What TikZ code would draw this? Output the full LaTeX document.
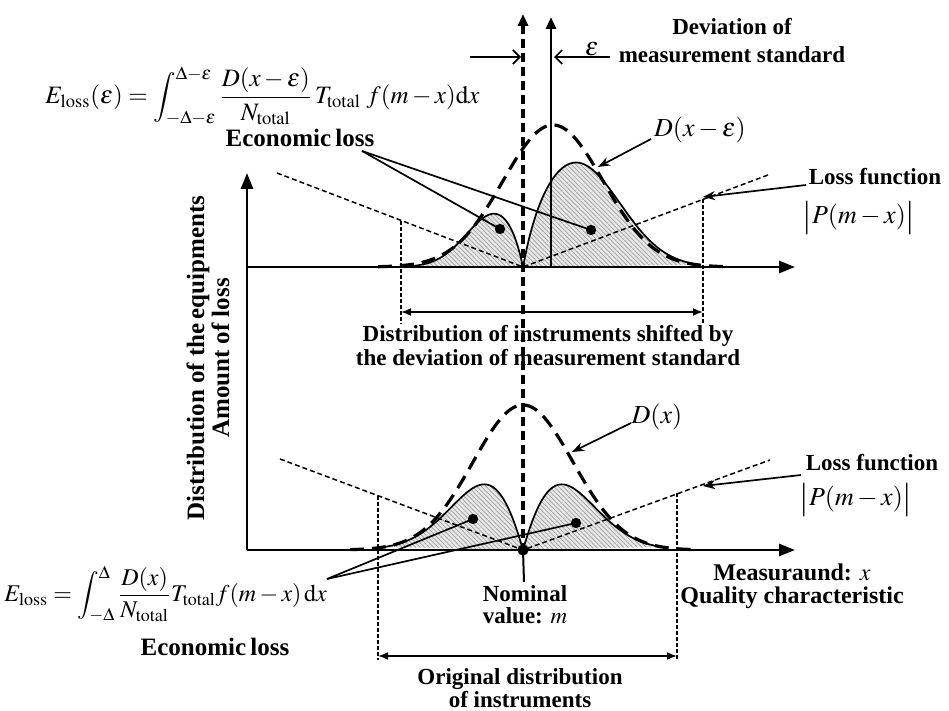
\documentclass[tikz,border=0pt]{standalone}
\usepackage{mathptmx}
\usepackage{fontspec}
\setmainfont{Liberation Serif}
\usetikzlibrary{arrows.meta,patterns.meta}
\newcommand{\tallbar}{\raisebox{-1.2pt}{\fontsize{17}{17}\selectfont$|$}}
\begin{document}
\begin{tikzpicture}[x=0.5pt,y=-0.5pt,
  axis/.style={line width=1.3pt,-{Triangle[length=8pt,width=6pt]}},
  bell/.style={line width=1.6pt,dash pattern=on 7pt off 4pt},
  mline/.style={line width=1.6pt,dash pattern=on 4.5pt off 2.5pt},
  lossv/.style={line width=0.75pt,dash pattern=on 2.5pt off 1.5pt},
  dotv/.style={line width=0.75pt,dash pattern=on 2pt off 1pt},
  lobefill/.style={preaction={fill=gray!18},pattern={Lines[angle=-45,distance=1.6pt,line width=0.35pt]},pattern color=gray!75},
  lobeline/.style={line width=0.85pt},
  ptr/.style={line width=0.85pt},
  ptrarrow/.style={line width=0.85pt,-{Stealth[length=6pt,width=4.5pt]}},
  epsarrow/.style={line width=0.85pt,-{Straight Barb[length=3.5pt,width=7pt]}},
  spanarrow/.style={line width=0.85pt,{Latex[length=5pt,width=4pt]}-{Latex[length=5pt,width=4pt]}},
  lbl/.style={font=\bfseries\fontsize{11.5}{12.5}\selectfont,align=center,inner sep=0.5pt},
  mth/.style={font=\fontsize{13}{15}\selectfont,inner sep=0pt},
  blob/.style={circle,fill=black,inner sep=0pt,minimum size=5.2pt}]
\useasboundingbox (0,0) rectangle (949,711);

% ---------- upper diagram: shaded loss lobes ----------
\path[lobefill] plot[domain=410:523,samples=80] (\x,{267-55*exp(-0.5*((\x-497)/30)^2)*(1-exp(-abs(\x-523)/8))}) -- cycle;
\path[lobefill] plot[domain=523:700,samples=100] (\x,{267-105*exp(-0.5*((\x-575)/45)^2)*(1-exp(-abs(\x-523)/10))}) -- cycle;
\draw[lobeline] plot[domain=410:523,samples=80] (\x,{267-55*exp(-0.5*((\x-497)/30)^2)*(1-exp(-abs(\x-523)/8))});
\draw[lobeline] plot[domain=523:700,samples=100] (\x,{267-105*exp(-0.5*((\x-575)/45)^2)*(1-exp(-abs(\x-523)/10))});
\draw[bell] plot[domain=378:728,samples=140] (\x,{267-142*exp(-0.5*((\x-553)/50)^2)});

\coordinate (lvU1) at (277,173);
\coordinate (mU) at (523,267);
\coordinate (lvU2) at (768,175);
\draw[lossv] (lvU1) -- (mU) -- (lvU2);

\coordinate (dlU) at (401,221);
\coordinate (dlUb) at (401,327);
\coordinate (drU) at (703,199);
\coordinate (drUb) at (703,328);
\draw[dotv] (dlU) -- (dlUb);
\draw[dotv,line width=1.2pt] (drU) -- (drUb);
\coordinate (spUl) at (401,312);
\coordinate (spUr) at (703,312);
\draw[spanarrow] (spUl) -- (spUr);

% ---------- lower diagram ----------
\path[lobefill] plot[domain=385:523,samples=80] (\x,{550-145*exp(-0.5*((\x-523)/50)^2)*(1-exp(-abs(\x-523)/41))}) -- cycle;
\path[lobefill] plot[domain=523:661,samples=80] (\x,{550-145*exp(-0.5*((\x-523)/50)^2)*(1-exp(-abs(\x-523)/41))}) -- cycle;
\draw[lobeline] plot[domain=385:523,samples=80] (\x,{550-145*exp(-0.5*((\x-523)/50)^2)*(1-exp(-abs(\x-523)/41))});
\draw[lobeline] plot[domain=523:661,samples=80] (\x,{550-145*exp(-0.5*((\x-523)/50)^2)*(1-exp(-abs(\x-523)/41))});
\draw[bell] plot[domain=350:696,samples=140] (\x,{550-145*exp(-0.5*((\x-523)/50)^2)});

\coordinate (lvL1) at (280,459);
\coordinate (mL) at (523,550);
\coordinate (lvL2) at (770,460);
\draw[lossv] (lvL1) -- (mL) -- (lvL2);

\coordinate (dlL) at (378,496);
\coordinate (dlLb) at (378,660);
\coordinate (drL) at (677,493);
\coordinate (drLb) at (677,660);
\draw[dotv] (dlL) -- (dlLb);
\draw[dotv] (drL) -- (drLb);
\coordinate (spLl) at (378,656);
\coordinate (spLr) at (677,656);
\draw[spanarrow] (spLl) -- (spLr);

% text that interrupts the centre line
\node[lbl,fill=white,inner sep=1pt,font=\bfseries\fontsize{11.5}{12}\selectfont] (shift) at (548,346) {Distribution of instruments shifted by\\the deviation of measurement standard};

% centre (nominal) dashed line and shifted solid line
\coordinate (mtop) at (523,14);
\coordinate (stop) at (551,17);
\coordinate (sbot) at (551,267);
\draw[mline,{Triangle[length=6pt,width=5pt]}-] (mtop) -- (mL);
\draw[line width=1.4pt,{Triangle[length=6pt,width=5pt]}-] (stop) -- (sbot);

% axes
\coordinate (O) at (247,550);
\coordinate (yT) at (247,173);
\coordinate (xL) at (795,550);
\coordinate (uO) at (247,267);
\coordinate (xU) at (795,267);
\draw[axis] (O) -- (yT);
\draw[axis] (O) -- (xL);
\draw[axis] (uO) -- (xU);

% epsilon arrows
\coordinate (eaL) at (470,57);
\coordinate (eaLt) at (521,57);
\coordinate (eaR) at (610,57);
\coordinate (eaRt) at (554,57);
\draw[epsarrow] (eaL) -- (eaLt);
\draw[epsarrow] (eaR) -- (eaRt);
\node[mth] (eps) at (592,49) {$\varepsilon$};
\node[lbl,font=\bfseries\fontsize{11.5}{14}\selectfont] (dev) at (732,41) {Deviation of\\measurement standard};

% upper formula and economic loss
\node[mth,anchor=west,font=\fontsize{12.5}{15}\selectfont] (fU) at (45,96) {$\displaystyle E_{\mathrm{loss}}(\varepsilon)=\int_{-\Delta-\varepsilon}^{\Delta-\varepsilon}\frac{D(x-\varepsilon)}{N_{\mathrm{total}}}\,T_{\mathrm{total}}\;f(m-x)\mathrm{d}x$};
\node[lbl,font=\bfseries\fontsize{12.5}{14}\selectfont] (ecoU) at (300,138) {Economic\,loss};
\coordinate (ecoUp) at (362,151);
\coordinate (dotU1) at (500,229);
\coordinate (dotU2) at (591,230);
\draw[ptr] (ecoUp) -- (dotU1);
\draw[ptr] (ecoUp) -- (dotU2);
\node[blob] at (dotU1) {};
\node[blob] at (dotU2) {};

% D(x-eps)
\node[mth] (dxe) at (700,130) {$D(x-\varepsilon)$};
\coordinate (dxeS) at (651,139);
\coordinate (dxeT) at (598,167);
\draw[ptrarrow] (dxeS) -- (dxeT);

% loss function upper
\node[lbl] (lossU) at (875,177) {Loss function};
\node[mth] (PU) at (859,218) {\tallbar$P(m-x)$\tallbar};
\coordinate (lossUs) at (806,185);
\coordinate (lossUt) at (703,197);
\draw[ptrarrow] (lossUs) -- (lossUt);

% y label
\node[lbl,rotate=90,font=\bfseries\fontsize{12.5}{10}\selectfont] (ylab) at (208,358) {Distribution of the\,equipments\\Amount of loss};

% lower labels
\node[mth] (dx) at (657,417) {$D(x)$};
\coordinate (dxS) at (631,423);
\coordinate (dxT) at (572,452);
\draw[ptrarrow] (dxS) -- (dxT);

\node[lbl] (lossL) at (872,463) {Loss function};
\node[mth] (PL) at (856,500) {\tallbar$P(m-x)$\tallbar};
\coordinate (lossLs) at (801,475);
\coordinate (lossLt) at (703,486);
\draw[ptrarrow] (lossLs) -- (lossLt);

\node[mth,anchor=west,font=\fontsize{12}{15}\selectfont] (fL) at (4,594) {$\displaystyle E_{\mathrm{loss}}=\int_{-\Delta}^{\Delta}\frac{D(x)}{N_{\mathrm{total}}}T_{\mathrm{total}}f(m-x)\,\mathrm{d}x$};
\node[lbl,font=\bfseries\fontsize{12.5}{14}\selectfont] (ecoL) at (215,647) {Economic\,loss};
\coordinate (ecoLp) at (327,579);
\coordinate (dotL1) at (473,519);
\coordinate (dotL2) at (576,523);
\draw[ptr] (ecoLp) -- (dotL1);
\draw[ptr] (ecoLp) -- (dotL2);
\node[blob] at (dotL1) {};
\node[blob] at (dotL2) {};

\coordinate (nomT) at (524,582);
\draw[ptr,line width=1pt] (mL) -- (nomT);
\node[blob,minimum size=5.6pt] (mdot) at (mL) {};
\node[lbl,font=\bfseries\fontsize{11.5}{11}\selectfont] (nom) at (525,605) {Nominal\\value: $m$};

\node[lbl,font=\bfseries\fontsize{12}{11.5}\selectfont] (meas) at (792,586) {Measuraund: $x$\\Quality characteristic};
\node[lbl,font=\bfseries\fontsize{11.5}{11.5}\selectfont] (orig) at (520,688) {Original distribution\\of instruments};
\end{tikzpicture}
\end{document}
